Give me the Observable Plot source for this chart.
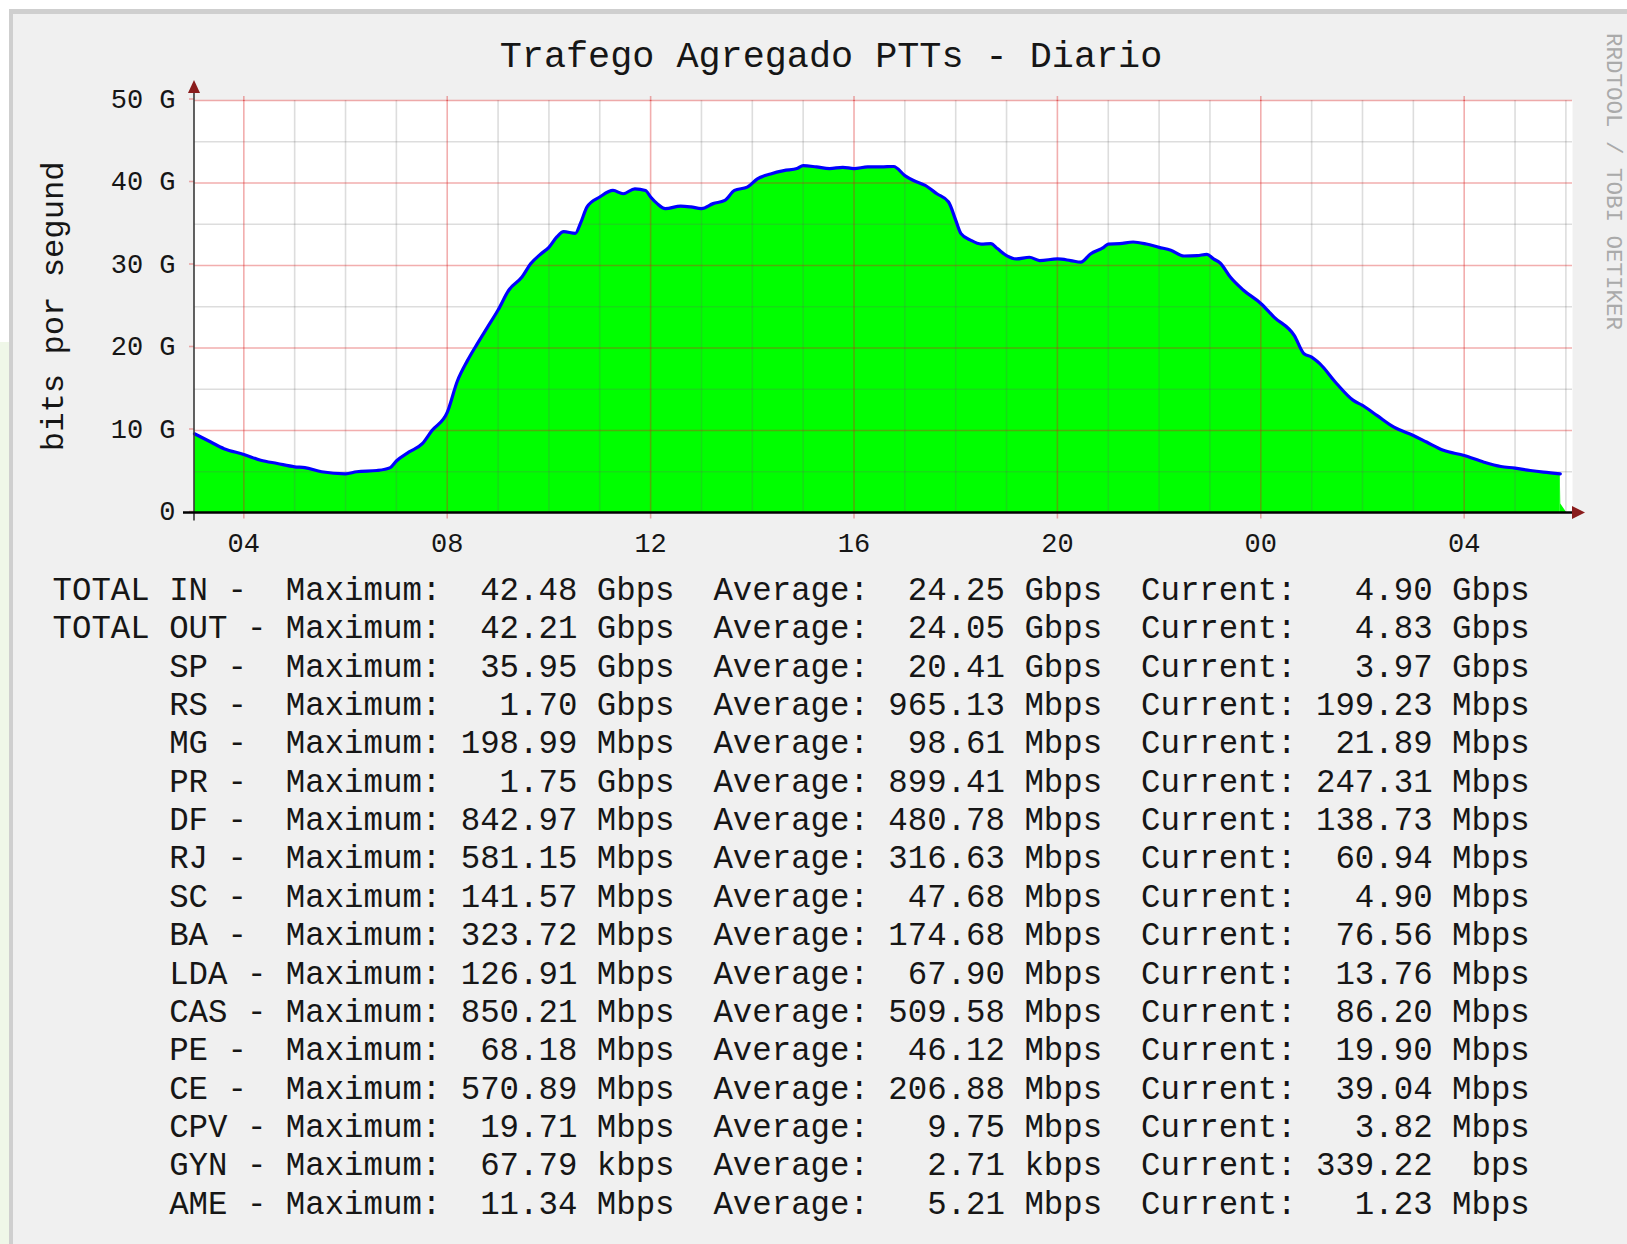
<!DOCTYPE html>
<html>
<head>
<meta charset="utf-8">
<script src="https://cdn.jsdelivr.net/npm/d3@7"></script>
<script src="https://cdn.jsdelivr.net/npm/@observablehq/plot@0.6"></script>
<style>
  html, body { margin: 0; padding: 0; background: #fff; }
  #page { position: relative; width: 1627px; height: 1244px; background: #fff; overflow: hidden; }
  #strip { position: absolute; left: 0; top: 342px; width: 9px; bottom: 0; background: #eff7e8; }
  #panel { position: absolute; left: 9px; top: 9px; right: 0; bottom: 0; background: #f0f0f0;
           border-top: 5px solid #cfcfcf; border-left: 4px solid #cfcfcf; }
  #page svg { position: absolute; left: 0; }
</style>
</head>
<body>
<div id="page"><div id="strip"></div><div id="panel"></div></div>
<script>
// ---------------- data ----------------
const title = "Trafego Agregado PTTs - Diario";
const yLabel = "bits por segund";
const watermark = "RRDTOOL / TOBI OETIKER";

// hours since midnight of first day (values > 24 are the following day)
const hours = [3.03, 3.35, 3.61, 4.0, 4.33, 4.66, 5.0, 5.2, 5.53, 6.0, 6.22, 6.62, 6.88, 7.0, 7.25, 7.51, 7.7,
  8.0, 8.2, 8.4, 8.59, 8.79, 9.0, 9.21, 9.47, 9.64, 9.84, 10.0, 10.16, 10.29, 10.52, 10.62, 10.75,
  11.0, 11.26, 11.46, 11.69, 11.9, 12.0, 12.13, 12.29, 12.59, 12.79, 13.0, 13.23, 13.46, 13.65, 13.9,
  14.1, 14.36, 14.62, 14.88, 15.0, 15.26, 15.52, 15.78, 16.0, 16.27, 16.53, 16.78, 17.0, 17.17, 17.4,
  17.63, 17.86, 18.0, 18.1, 18.3, 18.5, 18.69, 18.82, 19.0, 19.19, 19.45, 19.65, 20.0, 20.26, 20.46,
  20.65, 20.91, 21.0, 21.23, 21.49, 21.75, 22.0, 22.23, 22.49, 22.75, 22.94, 23.07, 23.2, 23.4, 23.66,
  24.0, 24.26, 24.66, 24.85, 25.0, 25.16, 25.49, 25.82, 26.0, 26.29, 26.62, 27.0, 27.26, 27.59, 28.0,
  28.39, 28.72, 29.0, 29.3, 29.56, 29.89];
// traffic in Gbit/s
const traffic = [9.6, 8.6, 7.8, 7.1, 6.4, 6.0, 5.6, 5.5, 5.0, 4.75, 5.0, 5.15, 5.5, 6.3, 7.4, 8.4, 10.0,
  12.2, 16.0, 18.5, 20.5, 22.5, 24.6, 27.0, 28.6, 30.2, 31.4, 32.2, 33.5, 34.1, 33.9, 35.1, 37.1,
  38.3, 39.1, 38.7, 39.3, 39.1, 38.3, 37.5, 36.9, 37.2, 37.1, 36.9, 37.5, 37.9, 39.1, 39.5,
  40.5, 41.1, 41.5, 41.75, 42.1, 41.95, 41.75, 41.9, 41.75, 41.95, 41.95, 42.0, 40.9, 40.3, 39.7,
  38.7, 37.7, 35.5, 33.9, 33.05, 32.6, 32.65, 32.05, 31.2, 30.8, 31.0, 30.6, 30.8, 30.6, 30.4,
  31.4, 32.2, 32.6, 32.65, 32.85, 32.6, 32.2, 31.85, 31.15, 31.2, 31.35, 30.8, 30.3, 28.6, 27.0,
  25.4, 23.75, 21.5, 19.3, 18.9, 18.1, 15.7, 13.65, 13.05, 11.8, 10.4, 9.4, 8.6, 7.6, 6.97,
  6.16, 5.64, 5.44, 5.15, 4.95, 4.75];
// last partial sample of the area
const tailHours = [29.9, 30.02];
const tailTraffic = [1.1, 0];

const xDomain = [3.03, 30.13];
const yDomain = [0, 50];
const xMajor = [4, 8, 12, 16, 20, 24, 28];
const xTickLabels = ["04", "08", "12", "16", "20", "00", "04"];
const xMinor = [5, 6, 7, 9, 10, 11, 13, 14, 15, 17, 18, 19, 21, 22, 23, 25, 26, 27, 29, 30];
const yTicks = [0, 10, 20, 30, 40, 50];
const yTickLabels = ["0", "10 G", "20 G", "30 G", "40 G", "50 G"];
const yMajor = [10, 20, 30, 40, 50];
const yMinor = [5, 15, 25, 35, 45];

// legend table
const names = ["TOTAL IN", "TOTAL OUT", "SP", "RS", "MG", "PR", "DF", "RJ", "SC", "BA", "LDA", "CAS", "PE", "CE", "CPV", "GYN", "AME"];
const maxValue = [42.48, 42.21, 35.95, 1.70, 198.99, 1.75, 842.97, 581.15, 141.57, 323.72, 126.91, 850.21, 68.18, 570.89, 19.71, 67.79, 11.34];
const maxUnit  = ["G", "G", "G", "G", "M", "G", "M", "M", "M", "M", "M", "M", "M", "M", "M", "k", "M"];
const avgValue = [24.25, 24.05, 20.41, 965.13, 98.61, 899.41, 480.78, 316.63, 47.68, 174.68, 67.90, 509.58, 46.12, 206.88, 9.75, 2.71, 5.21];
const avgUnit  = ["G", "G", "G", "M", "M", "M", "M", "M", "M", "M", "M", "M", "M", "M", "M", "k", "M"];
const curValue = [4.90, 4.83, 3.97, 199.23, 21.89, 247.31, 138.73, 60.94, 4.90, 76.56, 13.76, 86.20, 19.90, 39.04, 3.82, 339.22, 1.23];
const curUnit  = ["G", "G", "G", "M", "M", "M", "M", "M", "M", "M", "M", "M", "M", "M", "M", "", "M"];

// ---------------- chart ----------------
const lineData = hours.map((h, i) => ({h, v: traffic[i]}));
const areaData = lineData.concat(tailHours.map((h, i) => ({h, v: tailTraffic[i]})));

const MONO = "'Liberation Mono', 'DejaVu Sans Mono', monospace";
const majorColor = "rgba(220,30,30,0.36)";
const minorColor = "rgba(100,100,100,0.22)";

const chart = Plot.plot({
  width: 1627,
  height: 575,
  marginLeft: 194,
  marginRight: 55,
  marginTop: 100,
  marginBottom: 62.5,
  x: {domain: xDomain},
  y: {domain: yDomain},
  style: {background: "transparent", fontFamily: MONO, fontSize: "27px", color: "#161616", overflow: "visible"},
  marks: [
    Plot.frame({fill: "white", stroke: "none"}),
    Plot.areaY(lineData, {x: "h", y: "v", fill: "#00ff00", curve: "monotone-x"}),
    Plot.areaY(areaData.slice(-3), {x: "h", y: "v", fill: "#00ff00"}),
    Plot.ruleY(yMinor, {stroke: minorColor, strokeWidth: 1.6}),
    Plot.ruleX(xMinor, {stroke: minorColor, strokeWidth: 1.6}),
    Plot.ruleY(yMajor, {stroke: majorColor, strokeWidth: 1.6}),
    Plot.ruleX(xMajor, {stroke: majorColor, strokeWidth: 1.6}),
    Plot.lineY(lineData, {x: "h", y: "v", stroke: "#0000ff", strokeWidth: 3.2, strokeLinejoin: "round", curve: "monotone-x"}),
    Plot.axisY({ticks: yTicks, tickSize: 5, tickPadding: 14, stroke: majorColor, strokeWidth: 1.6, dy: -1.5,
      tickFormat: d => yTickLabels[yTicks.indexOf(d)], label: null}),
    Plot.axisX({ticks: xMajor, tickSize: 6, tickPadding: 14, stroke: majorColor, strokeWidth: 1.6,
      tickFormat: d => xTickLabels[xMajor.indexOf(d)], label: null}),
    Plot.axisX({anchor: "top", ticks: xMajor, tickSize: 5, stroke: majorColor, strokeWidth: 1.6,
      tickFormat: () => "", label: null})
  ]
});
chart.style.top = "0px";
document.getElementById("page").appendChild(chart);

// axis lines, arrows and texts positioned from the scales
const sx = chart.scale("x"), sy = chart.scale("y");
const svg = d3.select(chart);
const x0 = sx.apply(xDomain[0]), x1 = sx.apply(xDomain[1]);
const y0 = sy.apply(yDomain[0]), y1 = sy.apply(yDomain[1]);

svg.append("line").attr("x1", x0).attr("x2", x0).attr("y1", y0 + 8).attr("y2", y1 - 7)
  .attr("stroke", "#3a3a3a").attr("stroke-width", 1.6);
svg.append("line").attr("x1", x0 - 11).attr("x2", x1).attr("y1", y0).attr("y2", y0)
  .attr("stroke", "#000").attr("stroke-width", 2.6);
svg.append("path").attr("d", `M${x0},${y1 - 20}L${x0 + 6},${y1 - 7}L${x0 - 6},${y1 - 7}Z`).attr("fill", "#8a1c1c");
svg.append("path").attr("d", `M${x1 + 13},${y0}L${x1},${y0 - 6.5}L${x1},${y0 + 6.5}Z`).attr("fill", "#8a1c1c");

svg.append("text").text(title)
  .attr("x", 831).attr("y", 67).attr("text-anchor", "middle")
  .attr("font-family", MONO).attr("font-size", "36.8px").attr("fill", "#161616");

svg.append("text").text(yLabel)
  .attr("transform", `translate(62.5,${(y0 + y1) / 2}) rotate(-90)`)
  .attr("text-anchor", "middle")
  .attr("font-family", MONO).attr("font-size", "32.2px").attr("fill", "#161616");

svg.append("text").text(watermark)
  .attr("transform", "translate(1607,181.5) rotate(90)")
  .attr("text-anchor", "middle")
  .attr("font-family", MONO).attr("font-size", "22.5px").attr("fill", "#aaaaaa");

// ---------------- legend ----------------
function field(v, u) {
  return v.toFixed(2).padStart(6) + " " + (u + "bps").padStart(4);
}
const rows = names.map((n, i) => {
  const label = (n.startsWith("TOTAL") ? "" : "      ") + n + " -";
  return label.padEnd(12) + "Maximum: " + field(maxValue[i], maxUnit[i]) + "  " +
    "Average: " + field(avgValue[i], avgUnit[i]) + "  " +
    "Current: " + field(curValue[i], curUnit[i]);
});

const legend = d3.create("svg")
  .attr("width", 1627).attr("height", 669)
  .style("top", "575px").style("overflow", "visible");
legend.selectAll("text").data(rows).join("text")
  .attr("x", 52.5)
  .attr("y", (d, i) => 25 + i * 38.35)
  .attr("xml:space", "preserve")
  .style("white-space", "pre")
  .attr("font-family", MONO).attr("font-size", "32.4px").attr("fill", "#161616")
  .text(d => d);
document.getElementById("page").appendChild(legend.node());
</script>
</body>
</html>
